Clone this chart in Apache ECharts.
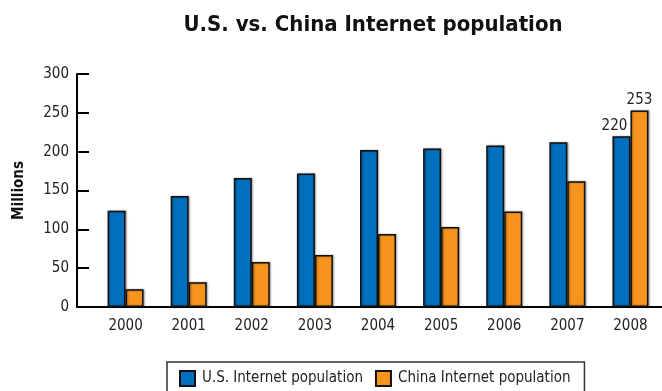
<!DOCTYPE html>
<html><head><meta charset="utf-8">
<script src="https://cdn.jsdelivr.net/npm/echarts@6/dist/echarts.min.js"></script>
<style>html,body{margin:0;padding:0;background:#fff}#c{width:662px;height:391px}</style>
</head><body><div id="c"></div>
<script>
const years = ['2000','2001','2002','2003','2004','2005','2006','2007','2008'];
const usValues = [124, 143, 166, 172, 202, 204, 208, 212, 220];
const chinaValues = [23, 32, 58, 67, 94, 103, 123, 162, 253];
const yTicks = [0, 50, 100, 150, 200, 250, 300];

const FONT = '"Liberation Sans Narrow", "DejaVu Sans Condensed", "Open Sans", sans-serif';
const barStyle = (c) => ({color: c, borderColor: '#111', borderWidth: 1.5,
  shadowColor: 'rgba(0,0,0,0.35)', shadowBlur: 2, shadowOffsetX: 1, shadowOffsetY: 0});

const last = years.length - 1;
const usData = usValues.map((v, i) => i === last ? {value: v, label: {show: true, position: 'top', offset: [-7, 0]}} : v);
const chinaData = chinaValues.map((v, i) => i === last ? {value: v, label: {show: true, position: 'top', offset: [0, 0]}} : v);

const chart = echarts.init(document.getElementById('c'));
chart.setOption({
  animation: false,
  title: {text: 'U.S. vs. China Internet population', left: 368, textAlign: 'center', top: 9,
    textStyle: {fontFamily: FONT, fontWeight: 'bold', fontSize: 22, color: '#111'}},
  legend: {left: 167, top: 362, itemWidth: 15, itemHeight: 15, itemGap: 12, icon: 'rect',
    padding: [8, 14, 30, 12], borderColor: '#333', borderWidth: 1.5,
    textStyle: {fontFamily: FONT, fontSize: 15, color: '#222', padding: [0, 0, 0, 2]},
    data: ['U.S. Internet population', 'China Internet population']},
  grid: {left: 94, right: -5, top: 74, bottom: 84},
  xAxis: {type: 'category', data: years,
    axisLine: {lineStyle: {color: '#000', width: 2}}, axisTick: {show: false},
    axisLabel: {fontFamily: FONT, fontSize: 15, color: '#222', margin: 12}},
  yAxis: {type: 'value', min: 0, max: 300, interval: 50, offset: 17,
    name: 'Millions', nameLocation: 'middle', nameRotate: 90, nameGap: 50,
    nameTextStyle: {fontFamily: FONT, fontWeight: 'bold', fontSize: 15, color: '#111'},
    axisLine: {show: true, lineStyle: {color: '#000', width: 2}},
    axisTick: {show: true, inside: true, length: 12, lineStyle: {color: '#000', width: 2}},
    splitLine: {show: false},
    axisLabel: {fontFamily: FONT, fontSize: 15, color: '#222', margin: 8,
      formatter: (v) => yTicks.includes(v) ? String(v) : ''}},
  series: [
    {name: 'U.S. Internet population', type: 'bar', data: usData, barWidth: 18, barGap: '0%',
     itemStyle: barStyle('#0070BE'),
     label: {show: false, fontFamily: FONT, fontSize: 15, color: '#222', distance: 3}},
    {name: 'China Internet population', type: 'bar', data: chinaData, barWidth: 18,
     itemStyle: barStyle('#F7941D'),
     label: {show: false, fontFamily: FONT, fontSize: 15, color: '#222', distance: 3}}
  ]
});
const y0 = chart.convertToPixel({yAxisIndex: 0}, 0);
const gx = chart.getModel().getComponent('grid').coordinateSystem.getRect().x;
chart.setOption({graphic: [{type: 'line', shape: {x1: gx - 18, y1: y0, x2: gx + 1, y2: y0},
  style: {stroke: '#000', lineWidth: 2}, z: 10}]});
</script></body></html>
